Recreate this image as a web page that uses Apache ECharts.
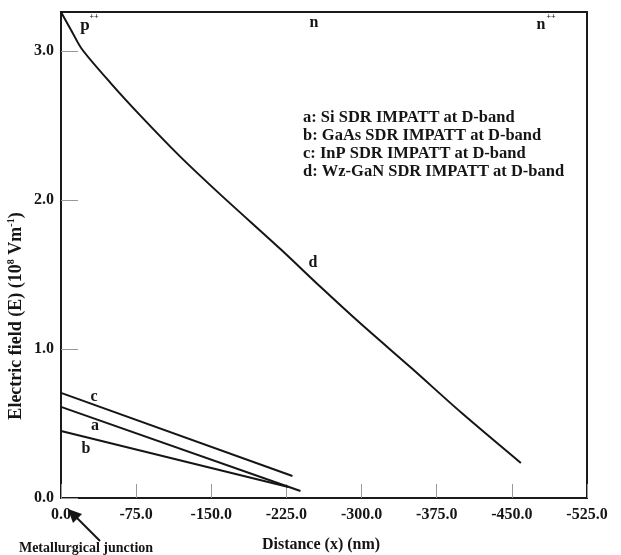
<!DOCTYPE html>
<html>
<head>
<meta charset="utf-8">
<script src="https://cdn.jsdelivr.net/npm/echarts@6/dist/echarts.min.js"></script>
<style>html,body{margin:0;padding:0;background:#fff}#c{width:621px;height:555px}</style>
</head>
<body>
<div id="c"></div>
<script>
// Data (distance in nm, field in 10^8 V/m)
const xTicks = [0, -75, -150, -225, -300, -375, -450, -525];
const seriesA = [[0, 0.611], [-239, 0.047]];           // Si
const seriesB = [[0, 0.45], [-227, 0.074]];            // GaAs
const seriesC = [[0, 0.705], [-231, 0.148]];           // InP
const distD = [0, -10, -21, -50, -80, -119, -160, -219, -260, -299, -350, -400, -459];
const fieldD = [3.26, 3.14, 3.01, 2.78, 2.56, 2.29, 2.03, 1.67, 1.41, 1.17, 0.87, 0.57, 0.235]; // Wz-GaN
const legendLines = [
  'a: Si SDR IMPATT at D-band',
  'b: GaAs SDR IMPATT at D-band',
  'c: InP SDR IMPATT at D-band',
  'd: Wz-GaN SDR IMPATT at D-band'
];

const FONT = '"Liberation Serif", "Times New Roman", serif';
const chart = echarts.init(document.getElementById('c'));
const lineStyle = {color: '#151515', width: 2};
const mk = (name, data, smooth) => ({
  name, type: 'line', data, symbol: 'none', smooth: smooth || false,
  lineStyle, animation: false
});
const seriesD = distD.map((x, i) => [x, fieldD[i]]);

const txt = (x, y, text, size, extra) => Object.assign({
  type: 'text', x, y,
  style: {text, font: 'bold ' + size + 'px ' + FONT, fill: '#151515',
          textAlign: 'center', textVerticalAlign: 'middle'}
}, extra || {});

chart.setOption({
  animation: false,
  backgroundColor: '#fff',
  grid: {left: 61, top: 12, right: 34, bottom: 57, show: true,
         borderColor: '#1a1a1a', borderWidth: 2, backgroundColor: 'transparent'},
  xAxis: {
    type: 'value', min: -525, max: 0, interval: 75, inverse: true,
    axisLine: {show: true, lineStyle: {color: '#1a1a1a', width: 2}},
    axisTick: {show: true, inside: true, length: 14, lineStyle: {color: '#999', width: 1}},
    splitLine: {show: false},
    axisLabel: {
      margin: 9, color: '#151515', fontFamily: FONT, fontWeight: 'bold', fontSize: 16,
      formatter: v => xTicks.indexOf(v) >= 0 ? v.toFixed(1) : ''
    }
  },
  yAxis: {
    type: 'value', min: 0, max: 3.26, interval: 1,
    axisLine: {show: true, lineStyle: {color: '#1a1a1a', width: 2}},
    axisTick: {show: true, inside: true, length: 17, lineStyle: {color: '#999', width: 1}},
    splitLine: {show: false},
    axisLabel: {
      margin: 7, color: '#151515', fontFamily: FONT, fontWeight: 'bold', fontSize: 16,
      showMaxLabel: false,
      formatter: v => Number.isInteger(v) ? v.toFixed(1) : ''
    }
  },
  series: [mk('a', seriesA), mk('b', seriesB), mk('c', seriesC), mk('d', seriesD, 0.3)],
  graphic: [
    // y axis title
    {type: 'text', x: 16, y: 316, rotation: Math.PI / 2,
     style: {
       text: '{t|Electric field (E) (10}{s|8}{t| Vm}{s|-1}{t|)}',
       textAlign: 'center', textVerticalAlign: 'middle',
       rich: {
         t: {font: 'bold 18px ' + FONT, fill: '#151515', lineHeight: 20},
         s: {font: 'bold 10px ' + FONT, fill: '#151515', verticalAlign: 'top', padding: [0, 0, 9, 0]}
       }
     }},
    // x axis title
    txt(321, 545, 'Distance (x) (nm)', 16),
    txt(86, 548, 'Metallurgical junction', 14),
    // arrow
    {type: 'line', shape: {x1: 100, y1: 541, x2: 74, y2: 515},
     style: {stroke: '#151515', lineWidth: 2}},
    {type: 'polygon', shape: {points: [[68, 509], [82, 514], [73, 523]]},
     style: {fill: '#151515'}},
    // region labels
    txt(85, 26, 'p', 17),
    txt(94, 17, '++', 8),
    txt(314, 23, 'n', 16),
    txt(541, 25, 'n', 16),
    txt(551, 17, '++', 8),
    // curve labels
    txt(94, 397, 'c', 16),
    txt(95, 426, 'a', 16),
    txt(86, 449, 'b', 16),
    txt(313, 263, 'd', 16),
    // legend text
    ...legendLines.map((s, i) => ({
      type: 'text', x: 303, y: 118 + i * 18,
      style: {text: s, font: 'bold 16.5px ' + FONT, fill: '#151515',
              textAlign: 'left', textVerticalAlign: 'middle'}
    }))
  ]
});
</script>
</body>
</html>
